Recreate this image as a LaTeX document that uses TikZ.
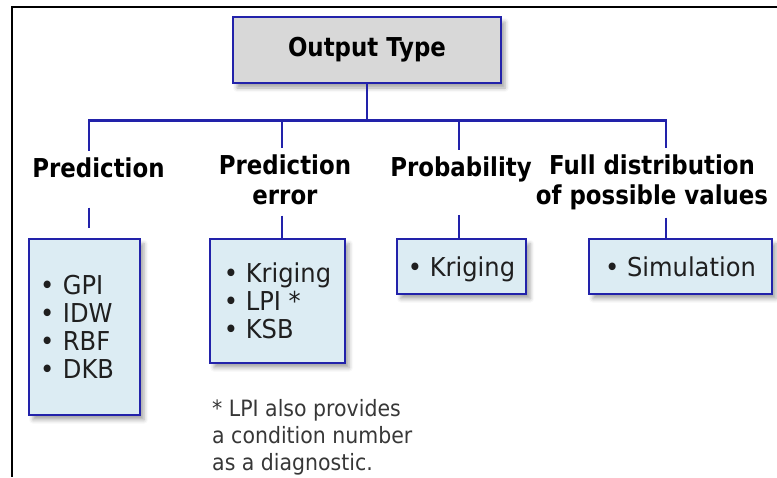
\documentclass[tikz,border=0pt]{standalone}
\usepackage{fontspec}
\setmainfont[FakeStretch=0.93]{DejaVu Sans}
\newfontfamily\headfont[FakeStretch=0.88]{DejaVu Sans}
\newfontfamily\notefont[FakeStretch=0.91]{DejaVu Sans}
\usetikzlibrary{shadows.blur}
\definecolor{lineblue}{RGB}{34,34,170}
\definecolor{headgray}{RGB}{216,216,216}
\definecolor{listblue}{RGB}{220,236,243}
\definecolor{notegray}{RGB}{55,55,55}
\begin{document}
\begin{tikzpicture}[x=1pt,y=-1pt]
    \tikzset{
        typebox/.style={draw=lineblue, line width=1.6pt, fill=headgray, inner sep=0pt,
            minimum width=268pt, minimum height=66pt,
            font=\headfont\bfseries\fontsize{26}{30}\selectfont,
            blur shadow={shadow xshift=4pt, shadow yshift=-5pt, shadow blur radius=4pt, shadow opacity=35}},
        heading/.style={anchor=north, align=center, inner xsep=0pt, inner ysep=7pt,
            font=\headfont\bfseries\fontsize{26}{30}\selectfont},
        listbox/.style={draw=lineblue, line width=1.6pt, fill=listblue, anchor=north,
            align=left, inner xsep=11pt, inner ysep=0pt, text=black!88,
            font=\fontsize{26}{28.3}\selectfont,
            blur shadow={shadow xshift=4pt, shadow yshift=-5pt, shadow blur radius=4pt, shadow opacity=35}},
        link/.style={draw=lineblue, line width=2.8pt},
        note/.style={anchor=north west, align=left, inner sep=0pt, text=notegray,
            font=\notefont\fontsize{22.5}{27}\selectfont}
    }

    \useasboundingbox (0,0) rectangle (777,477);
    % frame
    \draw[line width=2.4pt] (777,7) -- (12,7) -- (12,477);

    \draw node[typebox] (out) at (367,50) {Output Type};

    \draw node[heading] (pred)  at (98.5,151) {Prediction};
    \draw node[heading] (prerr) at (285,148)  {Prediction\\error};
    \draw node[heading] (prob)  at (461,150)  {Probability};
    \draw node[heading] (full)  at (652,148)  {Full distribution\\of possible values};

    \draw node[listbox, text width=89pt, minimum height=176pt] (bpred) at (84.5,238)
        {\textbullet\ GPI\\\textbullet\ IDW\\\textbullet\ RBF\\\textbullet\ DKB};
    \draw node[listbox, minimum width=135pt, minimum height=124pt] (bprerr) at (277.5,238)
        {\textbullet\ Kriging\\\textbullet\ LPI *\\\textbullet\ KSB};
    \draw node[listbox, minimum width=129pt, minimum height=55pt, text depth=0pt] (bprob) at (461.5,238)
        {\textbullet\ Kriging};
    \draw node[listbox, minimum width=183pt, minimum height=55pt, text depth=0pt] (bfull) at (680.5,238)
        {\textbullet\ Simulation};

    \foreach \n/\dx/\sa/\sb in {%
        pred/-9.5/22/10, prerr/-3/3/0, prob/-2/25/0, full/14/0/0%
    }{
        \draw[link] (out.south) -- ++(0,37) -| ([xshift=\dx pt]\n.north);
        \draw[link, shorten <=\sa pt, shorten >=\sb pt]
            ([xshift=\dx pt]\n.south) -- ([xshift=\dx pt]\n.south |- b\n.north);
    }

    \draw node[note] (fn) at (212,399) {* LPI also provides\\a condition number\\as a diagnostic.};
\end{tikzpicture}
\end{document}
